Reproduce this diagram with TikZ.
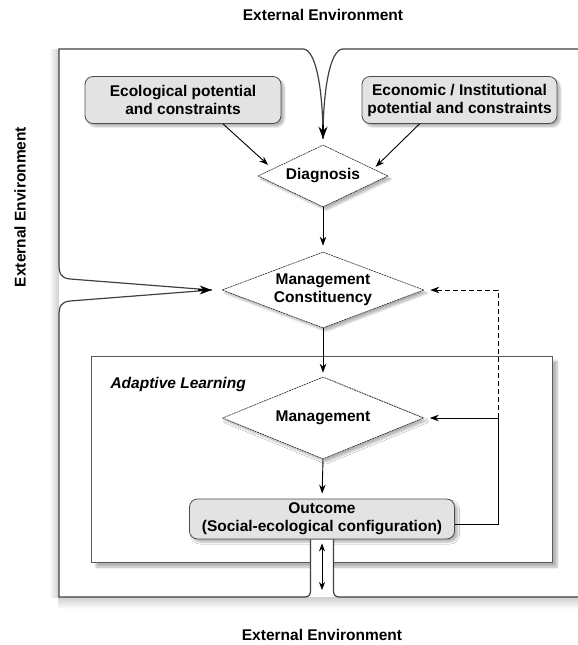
\documentclass[tikz,border=0pt]{standalone}
\usepackage{fontspec}
\setmainfont{Liberation Sans}
\usetikzlibrary{shapes.geometric,arrows.meta,shadows.blur}

\begin{document}
\begin{tikzpicture}[x=1pt, y=-1pt,
	every node/.style={font=\fontsize{15.5}{18}\selectfont\bfseries, align=center},
	softshadow/.style={blur shadow={shadow xshift=3pt, shadow yshift=-3pt, shadow blur steps=6, shadow opacity=30}},
	infobox/.style={draw=black!70, line width=0.8pt, fill=black!11, rounded corners=8pt, inner sep=0pt, softshadow},
	choice/.style={diamond, draw=black!85, line width=0.6pt, dash pattern=on 2pt off 0.7pt, fill=white, inner sep=0pt, softshadow},
	arr/.style={-{Stealth[length=9pt,width=6.5pt]}, line width=0.9pt},
	bigarr/.style={-{Stealth[length=12pt,width=9pt]}, line width=1.2pt, draw=black, fill=black},
	frame/.style={draw=black!75, line width=1.2pt}]
	\useasboundingbox (0,0) rectangle (578,645);
	\shade[left color=white, right color=black!18] (49,49) rectangle (58.4,597);
	\shade[top color=black!18, bottom color=white] (58.4,597.6) rectangle (578,609);
	\node[draw=black!65, line width=0.8pt, fill=white, minimum width=461pt, minimum height=206pt, inner sep=0pt,
		blur shadow={shadow xshift=5pt, shadow yshift=-5pt, shadow blur steps=8, shadow opacity=30}] (adapt) at (321.5,459) {};
	\node[anchor=west, font=\fontsize{15.5}{18}\selectfont\bfseries\itshape] (adlabel) at (107,384) {Adaptive Learning};
	\node (toplabel) at (323,15) {External Environment};
	\node (botlabel) at (322,635) {External Environment};
	\node[rotate=90] (leftlabel) at (20,207) {External Environment};
	\node[infobox, minimum width=196pt, minimum height=47pt] (eco) at (183,100) {Ecological potential\\and constraints};
	\node[infobox, minimum width=195pt, minimum height=47pt] (econ) at (459.5,100) {Economic / Institutional\\potential and constraints};
	\node[choice, shape aspect=2.1, minimum width=130pt, minimum height=62pt] (diag) at (323,176) {Diagnosis};
	\node[choice, shape aspect=2.66, minimum width=202pt, minimum height=76pt] (mc) at (323,290) {Management\\Constituency};
	\node[choice, shape aspect=2.45, minimum width=201pt, minimum height=82pt] (mgmt) at (323,418) {Management};
	\node[infobox, minimum width=265pt, minimum height=40pt] (outcome) at (322,519) {Outcome\\(Social-ecological configuration)};
	\coordinate (fb) at (498,418);
	\coordinate (gapend) at (322,597);
	\coordinate (topin) at ([yshift=6pt]diag.north);
	\coordinate (leftin) at ([xshift=-10pt]mc.west);
	\fill[white] (310.5,540) rectangle (333.5,597);
	\draw[frame] (leftin) -- (70,279) .. controls (61,278) and (59,274) .. (59,264) -- (59,49) -- (303,49)
		.. controls (316,49) and (323,90) .. (topin);
	\draw[frame] (578,49) -- (343,49) .. controls (330,49) and (323,90) .. (topin);
	\draw[frame] (leftin) -- (70,301) .. controls (61,302) and (59,306) .. (59,316) -- (59,597)
		-- (304.5,597) .. controls (308.5,597) and (310.5,595) .. (310.5,591) -- ([xshift=-11.5pt]outcome.south);
	\draw[frame] ([xshift=11.5pt]outcome.south) -- (333.5,591) .. controls (333.5,595) and (335.5,597) .. (339.5,597) -- (578,597);
	\draw[bigarr] ([yshift=14pt]topin) -- (topin);
	\draw[bigarr] ([xshift=-14pt]leftin) -- (leftin);
	\draw[arr, shorten >=6pt] ([xshift=40pt]eco.south) -- (diag.172);
	\draw[arr, shorten >=3pt] ([xshift=-40pt]econ.south) -- (diag.8);
	\draw[arr, shorten >=6pt] (diag.south) -- (mc.north);
	\draw[arr, shorten >=4pt] (mc.south) -- (mgmt.north);
	\draw[arr, shorten >=5pt] (mgmt.south) -- (outcome.north);
	\draw[arr, shorten >=6pt] ([yshift=-5pt]outcome.east) -| (fb) -- (mgmt.east);
	\draw[arr, dash pattern=on 5pt off 3pt, shorten >=6pt] (fb) |- (mc.east);
	\draw[{Stealth[length=8pt,width=6pt]}-{Stealth[length=8pt,width=6pt]}, line width=0.9pt, shorten <=4pt, shorten >=7pt]
		(outcome.south) -- (gapend);
\end{tikzpicture}
\end{document}
